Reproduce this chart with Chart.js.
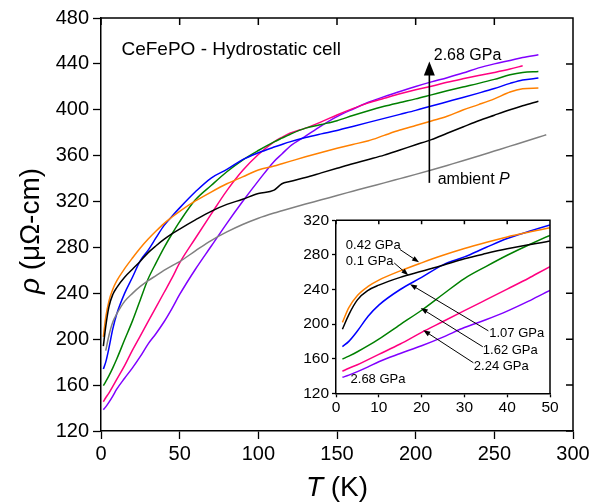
<!DOCTYPE html>
<html>
<head>
<meta charset="utf-8">
<script src="https://cdn.jsdelivr.net/npm/chart.js@4.4.0/dist/chart.umd.min.js"></script>
<style>
  html, body { margin: 0; padding: 0; background: #fff; }
  #wrap { position: relative; width: 599px; height: 502px; }
  #main { position: absolute; left: 0; top: 0; }
  #inset { position: absolute; left: 296px; top: 208px; }
</style>
</head>
<body>
<div id="wrap">
  <canvas id="main" width="599" height="502"></canvas>
  <canvas id="inset" width="268" height="212"></canvas>
</div>
<script>
// temperature grid (K) shared by all curves
const temps = [1.5, 3, 5, 7.5, 10, 15, 20, 25, 30, 35, 40, 45, 50, 60, 70, 80, 90, 100, 110, 115,
               120, 130, 140, 150, 160, 170, 180, 190, 200, 210, 220, 230, 240, 250, 260, 268, 278, 283];

// resistivity (µΩ-cm), one list per pressure
const rhoAmbient = [null, 190, 203, 215, 222, 233, 240, 246, 251, 255.5, 260, 264, 267.7, 277, 286, 293.5, 300, 305.5, 310, 312,
                    314, 317.8, 321.5, 325.3, 329, 332.7, 336.3, 340, 343.7, 347.5, 351.5, 355.5, 359.7, 364, 368.3, 371.7, 376, 378.2];
const rho010 = [194, 211, 228, 239, 245, 254, 261, 268, 275.5, 281.5, 287, 291.8, 296, 304, 311.5, 317.5, 322, 327, 330, 335.5,
                337.5, 341, 345, 349, 353, 356.7, 360.5, 365, 369.5, 374, 379.5, 385, 390.5, 395.3, 400, 403.5, 407.5, null];
const rho042 = [202, 219, 233, 243.5, 250.8, 261.5, 270.8, 279.5, 287.3, 294.3, 300.8, 306.3, 311.5, 320.5, 328.3, 335.5, 341.5, 347.5, 351, 353,
                355, 359, 362.8, 366.4, 369.8, 373, 377.7, 382.3, 386.3, 390.3, 394.3, 399.8, 404.5, 409.5, 415.5, 418.3, 419, null];
const rho107 = [174, 180, 192, 209, 222, 240, 254, 268.5, 277.7, 288.5, 299, 307, 314.5, 328.5, 340.5, 348, 356.5, 362.5, 367.5, 369.8,
                372, 375.8, 379, 382, 385.5, 389, 392.5, 396, 399.5, 403.3, 407, 410.7, 414.5, 418.5, 423, 426, 427.6, null];
const rho162 = [159.5, 163, 168, 175, 182.7, 199.5, 216, 234.5, 252.7, 266.5, 279.6, 291.5, 302.5, 321.5, 334, 346, 356.2, 364.5, 372, 375.3,
                378.5, 384, 387.2, 390.5, 395, 399.2, 403, 406.3, 409.5, 413, 416.5, 419.8, 423, 426.5, 430.5, 432.5, 433.4, null];
const rho224 = [145.5, 149, 153, 159, 165, 177, 190.5, 203, 215.5, 228, 240.5, 253, 266.5, 288, 309, 329.5, 347, 361, 372, 376,
                379.5, 384, 389.5, 395.5, 401, 406, 410, 414, 417.5, 420.5, 424, 427, 429.8, 432.5, 435.5, 438.4, null, null];
const rho268 = [138.5, 141, 145, 150.5, 156.5, 166, 175, 185, 196, 205, 215, 226.5, 239, 261, 281, 301, 320, 338, 355, 361.5,
                368, 377, 386, 394, 400.5, 406.5, 411.5, 416, 420.3, 424.3, 428, 432, 436.5, 440, 443, 445.5, 448, null];

const pressures = ['ambient', '0.1 GPa', '0.42 GPa', '1.07 GPa', '1.62 GPa', '2.24 GPa', '2.68 GPa'];
const series = [rhoAmbient, rho010, rho042, rho107, rho162, rho224, rho268];
const colors = ['#808080', '#000000', '#ff8000', '#0000ff', '#008000', '#ff0080', '#8000ff'];

const FONT = 'Liberation Sans, Arial, sans-serif';

function points(vals) {
  const out = [];
  temps.forEach((t, i) => { if (vals[i] != null) out.push({x: t, y: vals[i]}); });
  return out;
}

function makeSets(skipAmbient) {
  const sets = [];
  series.forEach((vals, i) => {
    if (skipAmbient && i === 0) return;
    sets.push({
      label: pressures[i],
      data: points(vals),
      borderColor: colors[i],
      borderWidth: 1.5,
      pointRadius: 0,
      fill: false,
      cubicInterpolationMode: 'monotone'
    });
  });
  return sets;
}

// box on top/right with inward ticks, white plot background
const frame = {
  id: 'frame',
  beforeDraw(chart, args, o) {
    if (!o.white) return;
    const a = chart.chartArea, ctx = chart.ctx;
    ctx.save();
    ctx.fillStyle = '#fff';
    ctx.fillRect(a.left, a.top, a.right - a.left, a.bottom - a.top);
    ctx.restore();
  },
  afterDraw(chart, args, o) {
    const {ctx, chartArea: a, scales: {x, y}} = chart;
    ctx.save();
    ctx.strokeStyle = '#000';
    ctx.lineWidth = o.lw;
    ctx.beginPath();
    ctx.moveTo(a.left, a.top); ctx.lineTo(a.right, a.top); ctx.lineTo(a.right, a.bottom);
    x.ticks.forEach(t => {
      const px = x.getPixelForValue(t.value);
      ctx.moveTo(px, a.top); ctx.lineTo(px, a.top + o.len);
    });
    if (o.right) {
      y.ticks.forEach(t => {
        const py = y.getPixelForValue(t.value);
        ctx.moveTo(a.right, py); ctx.lineTo(a.right - o.len, py);
      });
    }
    ctx.stroke();
    ctx.restore();
  }
};

function drawParts(ctx, parts, size, x0, y0, align) {
  let w = 0;
  parts.forEach(p => { ctx.font = (p[1] ? 'italic ' : '') + size + 'px ' + FONT; w += ctx.measureText(p[0]).width; });
  let x = align === 'center' ? x0 - w / 2 : x0;
  parts.forEach(p => {
    ctx.font = (p[1] ? 'italic ' : '') + size + 'px ' + FONT;
    ctx.fillText(p[0], x, y0);
    x += ctx.measureText(p[0]).width;
  });
}

// text labels and arrows placed in data coordinates, axis titles
const notes = {
  id: 'notes',
  afterDraw(chart, args, o) {
    const {ctx, scales: {x, y}, chartArea: a} = chart;
    ctx.save();
    ctx.fillStyle = '#000';
    ctx.strokeStyle = '#000';
    ctx.textAlign = 'left';
    ctx.textBaseline = 'middle';
    (o.arrows || []).forEach(ar => {
      const x0 = x.getPixelForValue(ar.from[0]), y0 = y.getPixelForValue(ar.from[1]);
      const x1 = x.getPixelForValue(ar.to[0]), y1 = y.getPixelForValue(ar.to[1]);
      const ang = Math.atan2(y1 - y0, x1 - x0);
      const c = Math.cos(ang), s = Math.sin(ang);
      ctx.lineWidth = ar.lw;
      ctx.beginPath();
      ctx.moveTo(x0, y0);
      ctx.lineTo(x1 - c * ar.head * 0.7, y1 - s * ar.head * 0.7);
      ctx.stroke();
      ctx.beginPath();
      ctx.moveTo(x1, y1);
      ctx.lineTo(x1 - c * ar.head - s * ar.half, y1 - s * ar.head + c * ar.half);
      ctx.lineTo(x1 - c * ar.head + s * ar.half, y1 - s * ar.head - c * ar.half);
      ctx.closePath();
      ctx.fill();
    });
    (o.texts || []).forEach(t => {
      drawParts(ctx, t.parts, t.size, x.getPixelForValue(t.at[0]), y.getPixelForValue(t.at[1]), 'left');
    });
    if (o.xTitle) {
      ctx.textBaseline = 'alphabetic';
      drawParts(ctx, o.xTitle.parts, o.xTitle.size, (a.left + a.right) / 2, o.xTitle.y, 'center');
    }
    if (o.yTitle) {
      ctx.textBaseline = 'alphabetic';
      ctx.translate(o.yTitle.x, o.yTitle.y);
      ctx.rotate(-Math.PI / 2);
      drawParts(ctx, o.yTitle.parts, o.yTitle.size, 0, 0, 'center');
    }
    ctx.restore();
  }
};

function axis(min, max, step, size, tick, pad, fit) {
  return {
    type: 'linear', min: min, max: max,
    ticks: { stepSize: step, color: '#000', padding: pad, maxRotation: 0, font: { family: FONT, size: size } },
    grid: { drawOnChartArea: false, tickLength: tick, tickColor: '#000', tickWidth: 1.3 },
    border: { color: '#000', width: 1.5 },
    afterFit: fit
  };
}

new Chart(document.getElementById('main'), {
  type: 'line',
  data: { datasets: makeSets(false) },
  options: {
    responsive: false, animation: false, devicePixelRatio: 1,
    layout: { padding: { top: 18, right: 26, left: 0, bottom: 0 } },
    scales: {
      x: axis(0, 300, 50, 20, 8, 3, s => { s.height = 71; }),
      y: axis(120, 480, 40, 20, 8, 4, s => { s.width = 101; })
    },
    plugins: {
      legend: { display: false },
      tooltip: { enabled: false },
      frame: { lw: 1.5, len: 7, right: true },
      notes: {
        texts: [
          { parts: [['CeFePO - Hydrostatic cell', false]], size: 19, at: [13, 452] },
          { parts: [['2.68 GPa', false]], size: 16, at: [211.5, 447] },
          { parts: [['ambient ', false], ['P', true]], size: 16, at: [214, 339.5] }
        ],
        arrows: [
          { from: [208.7, 336.3], to: [208.7, 442], lw: 1.6, head: 14, half: 5.5 }
        ],
        xTitle: { parts: [['T', true], [' (K)', false]], size: 28, y: 496 },
        yTitle: { parts: [['\u03c1', true], [' (\u03bc\u03a9-cm)', false]], size: 28, x: 39, y: 231 }
      }
    }
  },
  plugins: [frame, notes]
});

new Chart(document.getElementById('inset'), {
  type: 'line',
  data: { datasets: makeSets(true) },
  options: {
    responsive: false, animation: false, devicePixelRatio: 1,
    layout: { padding: { top: 12, right: 14, left: 0, bottom: 0 } },
    scales: {
      x: axis(0, 50, 10, 15.5, 4, 1, s => { s.height = 26.7; }),
      y: axis(120, 320, 40, 15.5, 4, 3, s => { s.width = 40; })
    },
    plugins: {
      legend: { display: false },
      tooltip: { enabled: false },
      frame: { lw: 1.5, len: 4, right: false, white: true },
      notes: {
        texts: [
          { parts: [['0.42 GPa', false]], size: 13, at: [2.3, 291] },
          { parts: [['0.1 GPa', false]], size: 13, at: [2.3, 272.7] },
          { parts: [['1.07 GPa', false]], size: 13, at: [35.8, 188.8] },
          { parts: [['1.62 GPa', false]], size: 13, at: [34.3, 169.2] },
          { parts: [['2.24 GPa', false]], size: 13, at: [32.2, 151.5] },
          { parts: [['2.68 GPa', false]], size: 13, at: [3.4, 136.2] }
        ],
        arrows: [
          { from: [14.95, 286.2], to: [19.4, 271.5], lw: 1, head: 7, half: 2.6 },
          { from: [13.6, 270.7], to: [16.9, 256.5], lw: 1, head: 7, half: 2.6 },
          { from: [35.6, 192.2], to: [17.3, 246.1], lw: 1, head: 7, half: 2.6 },
          { from: [34.3, 173.8], to: [19.8, 218.5], lw: 1, head: 7, half: 2.6 },
          { from: [32.1, 155.3], to: [20.4, 193], lw: 1, head: 7, half: 2.6 }
        ]
      }
    }
  },
  plugins: [frame, notes]
});
</script>
</body>
</html>
